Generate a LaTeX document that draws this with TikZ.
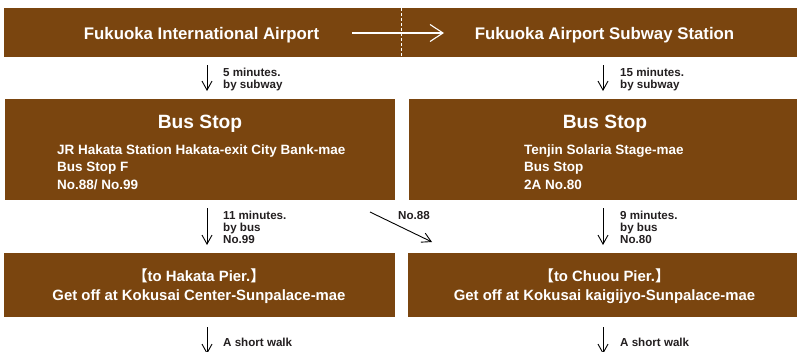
\documentclass[tikz,border=0pt]{standalone}
\usepackage{fontspec}
\setmainfont{Liberation Sans}
\newfontfamily\cjk{Noto Sans CJK JP}
\usetikzlibrary{arrows.meta}
\definecolor{brownbox}{RGB}{122,69,15}
\definecolor{labelink}{RGB}{35,31,32}
\newcommand{\fTitle}{\bfseries\fontsize{16.8}{20}\selectfont}
\newcommand{\fBus}{\bfseries\fontsize{19.2}{22}\selectfont}
\newcommand{\fDet}{\bfseries\fontsize{13.5}{17}\selectfont}
\newcommand{\fPier}{\bfseries\fontsize{14.9}{19}\selectfont}
\newcommand{\fLbl}{\bfseries\fontsize{11.6}{12}\selectfont}
\begin{document}
\begin{tikzpicture}[x=1pt,y=-1pt,
  box/.style={fill=brownbox, draw=none, inner sep=0pt, anchor=north west},
  wtext/.style={text=white, inner sep=0pt, anchor=base},
  wleft/.style={text=white, inner sep=0pt, anchor=base west, font=\fDet},
  lbl/.style={text=labelink, inner sep=0pt, anchor=base west, font=\fLbl},
  darr/.style={draw=black, line width=0.9pt, -{Straight Barb[length=9pt,width=10pt]}},
  warr/.style={draw=white, line width=1.1pt, -{Straight Barb[length=13pt,width=17pt]}}]
\useasboundingbox (0,0) rectangle (797,351);
% boxes
\node[box, minimum width=397pt, minimum height=49pt] (topL) at (4,8) {};
\node[box, minimum width=396pt, minimum height=49pt] (topR) at (401,8) {};
\draw[white, line width=0.8pt, dash pattern=on 3pt off 2pt] (topL.north east) -- (topL.south east);
\node[box, minimum width=390pt, minimum height=101pt] (busL) at (5,99) {};
\node[box, minimum width=388pt, minimum height=101pt] (busR) at (409,99) {};
\node[box, minimum width=391pt, minimum height=64pt] (pierL) at (4,253) {};
\node[box, minimum width=389pt, minimum height=64pt] (pierR) at (408,253) {};
% top texts
\node[wtext, font=\fTitle] (tA) at (201.5,39) {Fukuoka International Airport};
\node[wtext, font=\fTitle] (tB) at (604.5,39) {Fukuoka Airport Subway Station};
\coordinate (h1) at (352,33);
\coordinate (h2) at (444,33);
\draw[warr] (h1) -- (h2);
% bus stop texts
\node[wtext, font=\fBus] (bA) at (200,128) {Bus Stop};
\node[wtext, font=\fBus] (bB) at (605,128) {Bus Stop};
\node[wleft] (dA1) at (57,154) {JR Hakata Station Hakata-exit City Bank-mae};
\node[wleft] (dA2) at (57,171.5) {Bus Stop F};
\node[wleft] (dA3) at (57,189) {No.88/ No.99};
\node[wleft] (dB1) at (524,154) {Tenjin Solaria Stage-mae};
\node[wleft] (dB2) at (524,171.5) {Bus Stop};
\node[wleft] (dB3) at (524,189) {2A No.80};
% pier texts
\node[wtext, font=\fPier] (pA1) at (199,281) {{\cjk 【}to Hakata Pier.{\cjk 】}};
\node[wtext, font=\fPier] (pA2) at (199,300) {Get off at Kokusai Center-Sunpalace-mae};
\node[wtext, font=\fPier] (pB1) at (604.5,281) {{\cjk 【}to Chuou Pier.{\cjk 】}};
\node[wtext, font=\fPier] (pB2) at (604.5,300) {Get off at Kokusai kaigijyo-Sunpalace-mae};
% connectors
\coordinate (cl) at (207,0);
\coordinate (cr) at (603,0);
\draw[darr, shorten <=8pt, shorten >=8pt] (topL.south -| cl) -- (busL.north -| cl);
\draw[darr, shorten <=8pt, shorten >=8pt] (topR.south -| cr) -- (busR.north -| cr);
\draw[darr, shorten <=8pt, shorten >=8pt] (busL.south -| cl) -- (pierL.north -| cl);
\draw[darr, shorten <=8pt, shorten >=8pt] (busR.south -| cr) -- (pierR.north -| cr);
\coordinate (endL) at (207,354);
\coordinate (endR) at (603,354);
\draw[darr, shorten <=10pt] (pierL.south -| cl) -- (endL);
\draw[darr, shorten <=10pt] (pierR.south -| cr) -- (endR);
\coordinate (d1) at (370,212);
\coordinate (d2) at (432,242);
\draw[darr] (d1) -- (d2);
% labels
\node[lbl] (l1a) at (223,76) {5 minutes.};
\node[lbl] (l1b) at (223,88) {by subway};
\node[lbl] (l2a) at (620,76) {15 minutes.};
\node[lbl] (l2b) at (620,88) {by subway};
\node[lbl] (l3a) at (223,219) {11 minutes.};
\node[lbl] (l3b) at (223,231) {by bus};
\node[lbl] (l3c) at (223,243) {No.99};
\node[lbl] (l4a) at (620,219) {9 minutes.};
\node[lbl] (l4b) at (620,231) {by bus};
\node[lbl] (l4c) at (620,243) {No.80};
\node[lbl] (l5) at (398,219) {No.88};
\node[lbl] (l6) at (223,346) {A short walk};
\node[lbl] (l7) at (620,346) {A short walk};
\end{tikzpicture}
\end{document}
